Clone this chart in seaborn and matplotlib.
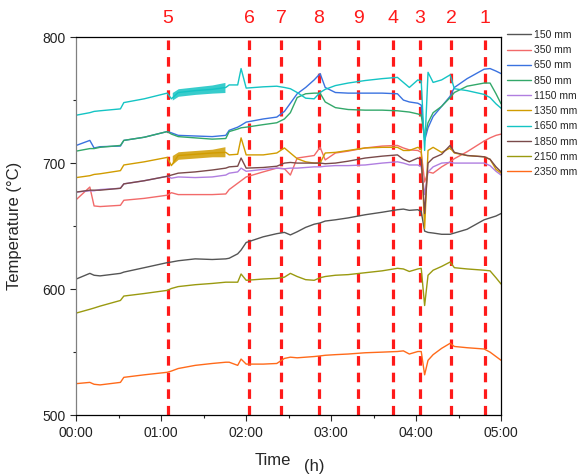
import numpy as np
import pandas as pd
import matplotlib
matplotlib.use('Agg')
import matplotlib.pyplot as plt
import matplotlib.transforms as mtransforms
from matplotlib.ticker import MultipleLocator
import seaborn as sns

# time in hours
t = [0.00, 0.16, 0.21, 0.28, 0.52, 0.56, 0.80, 1.07, 1.12, 1.20, 1.40, 1.60, 1.76, 1.80,
     1.90, 1.94, 2.00, 2.20, 2.36, 2.45, 2.52, 2.60, 2.70, 2.80, 2.87, 2.93, 3.05, 3.20,
     3.40, 3.60, 3.78, 3.85, 3.92, 4.02, 4.06, 4.10, 4.14, 4.20, 4.30, 4.40, 4.45, 4.60,
     4.80, 4.87, 4.94, 5.00]

T150 = [608, 612.5, 611, 610.5, 612.5, 613.5, 617, 621, 621.5, 622.5, 624, 623.5, 624, 624.5,
        628, 631, 637, 641.5, 644, 645, 643, 645.5, 649, 651.5, 652.5, 654, 655, 656.5,
        659, 661, 663, 663.5, 662.5, 663, 661.5, 646, 645, 644.5, 643.5, 643.5, 644.5, 647.5,
        655, 656.5, 658, 660]
T350 = [671, 681, 666, 665.5, 666.5, 670.5, 672, 674.5, 676.5, 675, 675, 675, 675.5, 679,
        684, 686, 689, 693, 696, 695.5, 690.5, 704, 705, 706, 712.5, 702.5, 708, 709.5,
        712, 713.5, 714, 712, 710.5, 710, 708.5, 685, 693, 692, 697, 701, 703.5, 709,
        717.5, 720, 722, 723]
T650 = [714, 718, 712, 713, 713.5, 718, 720.5, 725, 724, 722, 721.5, 721, 722, 726,
        728.5, 730, 732.5, 735, 736.5, 741, 747.5, 755, 760, 766, 771, 760, 756, 755.5,
        755.5, 755.5, 755, 750, 748.5, 747.5, 746, 718, 728, 737, 745, 753, 760, 767,
        774.5, 775, 773, 771]
T850 = [709.5, 711.5, 711.5, 712.5, 714, 718, 720.5, 725, 723, 721, 720, 719, 719.5, 725,
        727, 728, 728.5, 730.5, 732, 735, 740, 752, 755, 755.5, 755.5, 748.5, 744, 742.5,
        742, 742, 741.5, 741, 740.5, 739, 738, 720, 732, 740, 745, 752, 756, 761,
        763.5, 763.5, 755, 747]
T1150 = [677, 678, 678, 679, 680, 683.5, 686, 689.5, 688, 689, 688.5, 689, 690.5, 692,
         693, 696, 693.5, 695, 696, 695.5, 696, 696, 696.5, 697, 697, 697.5, 698, 698,
         698.5, 700, 701, 700, 698.5, 698.5, 697, 675, 693, 697, 700, 700.5, 700, 700,
         700, 698, 693.5, 690.5]
T1350 = [688.5, 690, 691, 691.5, 694, 698.5, 701, 704.5, 698, 706, 707, 708, 708.5, 706.5,
         707, 720, 706.5, 706.5, 708, 712, 708, 703.5, 701, 700, 700, 708, 708.5, 710,
         712, 712.5, 712.5, 710, 710, 712.5, 711, 648, 710, 712.5, 708.5, 712, 708, 706,
         705, 703, 695, 692]
T1650 = [738, 740, 741, 741.5, 743, 748, 751, 755.5, 751, 756, 757.5, 758.5, 760, 762,
         762, 775, 759.5, 760.5, 761, 760, 759, 756, 751.5, 751, 756, 758.5, 761.5, 763.5,
         765.5, 767, 768, 764, 760, 766, 765, 710, 772, 764, 766, 770, 759, 757.5,
         754.5, 752, 747, 743.5]
T1850 = [677, 678.5, 678.5, 678.5, 680, 683.5, 686, 689.5, 690.5, 692, 693, 694.5, 696, 697,
         697.5, 704, 696, 696.5, 697.5, 700, 700.5, 700, 700, 700, 700, 699.5, 700, 701.5,
         704, 705.5, 706.5, 703, 701, 704, 703, 660, 700, 704, 707, 714, 708.5, 706,
         705, 703, 697, 693]
T2150 = [581, 584, 585, 586.5, 591, 594.5, 596.5, 599, 600.5, 602, 603.5, 604.5, 605.5, 605.5,
         605.5, 612, 607, 608, 608.5, 609.5, 612.5, 610, 607.5, 607, 609, 610, 611, 611.5,
         613, 614.5, 616.5, 616, 614, 616, 616.5, 587, 611, 615, 618, 621.5, 617, 616,
         615, 614.5, 609, 604]
T2350 = [525, 526, 524.5, 524, 526, 530, 532, 534, 535, 537, 539.5, 541, 542, 542,
         539.5, 544.5, 540.5, 540.5, 541, 545, 546, 545.5, 546, 546.5, 547, 547.5, 548, 548.5,
         549.5, 550, 550.5, 551, 548.5, 550.5, 550.5, 532, 543.5, 548, 553, 557, 554.5, 553.5,
         552.5, 550, 546.5, 543.5]

# noisy stretch between ~01:07 and ~01:46 (upper / lower envelope)
jt = [1.13, 1.20, 1.40, 1.60, 1.75]
cyan_lo = [750, 753, 754.5, 755.5, 756]
cyan_hi = [756, 759, 760.5, 762, 764]
gold_lo = [699, 703, 704, 705, 705]
gold_hi = [706, 709, 710, 711, 713]

# vertical marker lines
mark_t = [1.08, 2.034, 2.415, 2.852, 3.316, 3.731, 4.046, 4.414, 4.812]
mark_lab = ['5', '6', '7', '8', '9', '4', '3', '2', '1']

labels = ['150 mm', '350 mm', '650 mm', '850 mm', '1150 mm', '1350 mm',
          '1650 mm', '1850 mm', '2150 mm', '2350 mm']
series = [T150, T350, T650, T850, T1150, T1350, T1650, T1850, T2150, T2350]
colors = ['#555555', '#f26a6a', '#3a72e0', '#33a86a', '#b07ee0', '#d19c00',
          '#14c4c4', '#7a4a4a', '#9a9a10', '#ff6a1a']

df = pd.DataFrame({
    'time': np.tile(t, len(labels)),
    'temp': np.concatenate(series),
    'depth': np.repeat(labels, len(t)),
})

sns.set_style('ticks')
plt.rcParams['font.family'] = ['Liberation Sans', 'DejaVu Sans']

fig = plt.figure(figsize=(5.82, 4.75), dpi=100)
ax = fig.add_axes([0.131, 0.126, 0.730, 0.796])

sns.lineplot(data=df, x='time', y='temp', hue='depth', hue_order=labels,
             palette=colors, linewidth=1.0, ax=ax, sort=False)

ax.fill_between(jt, cyan_lo, cyan_hi, color=colors[6], lw=0, alpha=0.85)
ax.fill_between(jt, gold_lo, gold_hi, color=colors[5], lw=0, alpha=0.85)

for xm, lab in zip(mark_t, mark_lab):
    ax.axvline(xm, color='#ff1a1a', lw=2.3, dashes=(3.0, 2.2), zorder=1)
    ax.text(xm, 1.05, lab, color='#ff1a1a', fontsize=14, ha='center', va='center',
            transform=mtransforms.blended_transform_factory(ax.transData, ax.transAxes))

ax.set_xlim(0, 5)
ax.set_ylim(500, 800)
ax.set_xticks([0, 1, 2, 3, 4, 5])
ax.set_xticklabels(['00:00', '01:00', '02:00', '03:00', '04:00', '05:00'])
ax.xaxis.set_minor_locator(MultipleLocator(0.5))
ax.set_yticks([500, 600, 700, 800])
ax.yaxis.set_minor_locator(MultipleLocator(50))
ax.tick_params(axis='both', which='major', labelsize=10, length=4, width=0.8,
               labelcolor='#222222')
ax.tick_params(axis='both', which='minor', length=2.5, width=0.8)
for s in ax.spines.values():
    s.set_linewidth(0.9)
    s.set_color('black')
ax.spines['left'].set_color('#808080')

ax.set_xlabel('')
ax.set_ylabel('Temperature (°C)', fontsize=12)
ax.yaxis.set_label_coords(-0.128, 0.5)
fig.text(0.468, 0.03, 'Time', fontsize=12, ha='center', va='center')
fig.text(0.54, 0.018, '(h)', fontsize=12, ha='center', va='center')

ax.legend(loc='upper left', bbox_to_anchor=(1.0, 1.035), frameon=False, fontsize=7.5,
          handlelength=2.3, handletextpad=0.3, labelspacing=0.5, borderaxespad=0.2)

fig.savefig('out.png', dpi=100)
